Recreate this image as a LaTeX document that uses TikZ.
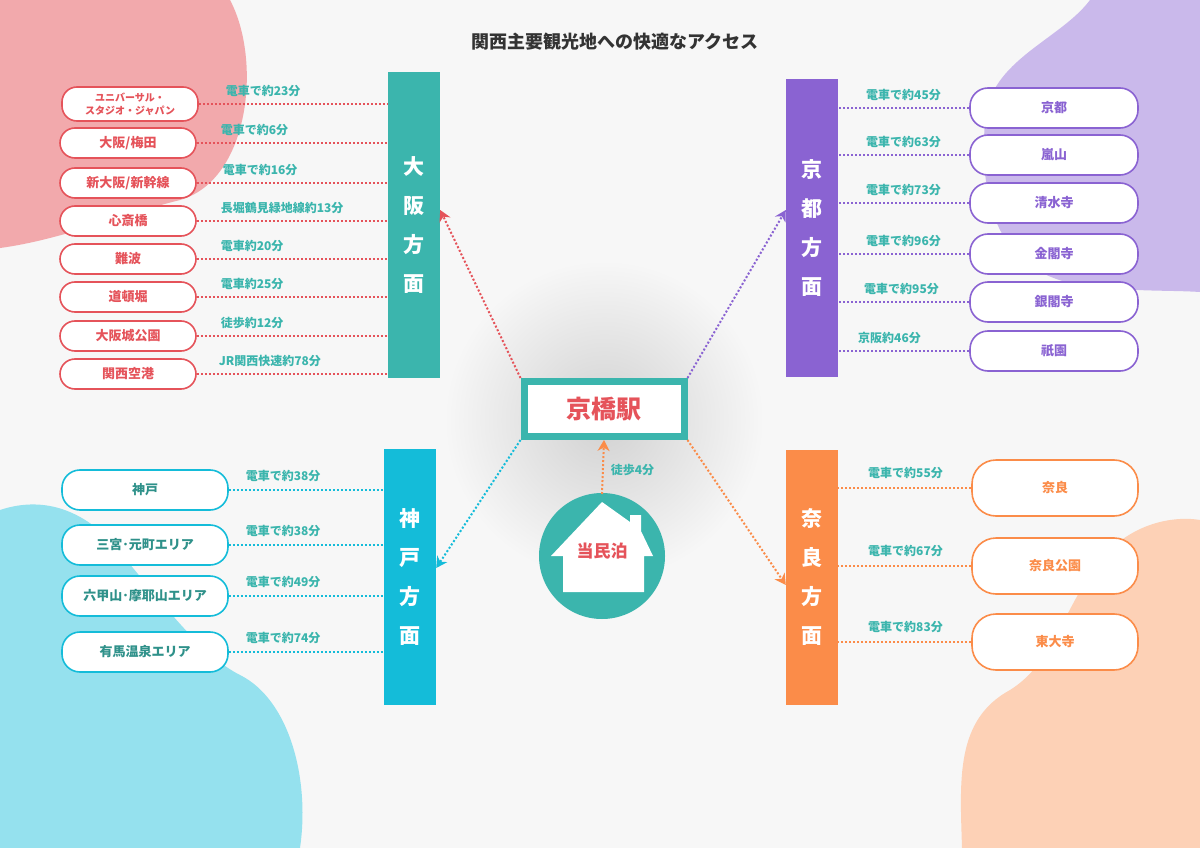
\documentclass[tikz,border=0pt]{standalone}
\usepackage{fontspec}
\setmainfont{Noto Sans CJK JP}
\usepackage{tikz}
\usetikzlibrary{arrows, arrows.meta}
\usetikzlibrary{shapes.geometric, positioning, calc}
\definecolor{bg}{HTML}{F7F7F7}
\definecolor{teal}{HTML}{3BB5AD}
\definecolor{osk}{HTML}{E5535A}
\definecolor{kbe}{HTML}{14BCD9}
\definecolor{kyo}{HTML}{8A63D2}
\definecolor{nra}{HTML}{FB8C49}
\tikzset{
  bar/.style={minimum width=52pt, inner sep=0pt, font=\bfseries\fontsize{21}{39}\selectfont, text=white, align=center},
  spot/.style={draw=#1, line width=1.6pt, rounded corners=15pt, fill=white, text=#1, font=\bfseries\fontsize{13}{15}\selectfont, inner sep=0pt, align=center},
  link/.style={#1, line width=2pt, dash pattern=on 2pt off 2pt},
  time/.style={text=teal, font=\bfseries\fontsize{12}{13}\selectfont, anchor=south west, inner sep=1pt},
  tip/.style={-{Stealth[length=11pt, width=12pt]}}
}
\begin{document}
\begin{tikzpicture}[x=1pt, y=-1pt]
        \fill[bg] (0,0) rectangle (1200,848);
        \useasboundingbox (0,0) rectangle (1200,848);

        % blobs
        \fill[osk!50] (0,0) -- (230,0) .. controls (262,60) and (250,180) .. (180,200) .. controls (120,215) and (60,240) .. (0,248) -- cycle;
        \fill[kyo!45] (1200,0) -- (1090,0) .. controls (1060,40) and (990,60) .. (985,120) .. controls (980,190) and (990,270) .. (1080,285) .. controls (1130,292) and (1170,290) .. (1200,292) -- cycle;
        \fill[kbe!45] (0,848) -- (300,848) .. controls (310,780) and (290,700) .. (240,675) .. controls (200,655) and (160,600) .. (110,540) .. controls (70,500) and (30,500) .. (0,510) -- cycle;
        \fill[nra!40] (1200,848) -- (962,848) .. controls (960,780) and (955,720) .. (1010,690) .. controls (1050,665) and (1060,620) .. (1090,575) .. controls (1120,525) and (1170,515) .. (1200,520) -- cycle;

        \node[font=\bfseries\fontsize{18}{20}\selectfont, text=black!80] (title) at (615,42) {関西主要観光地への快適なアクセス};

        % centre
        \shade[inner color=black!18, outer color=bg] (604,420) circle (160);
        \node[draw=teal, line width=7pt, fill=white, minimum width=160pt, minimum height=55pt, text=osk, font=\bfseries\fontsize{25}{27}\selectfont] (station) at (604,409) {京橋駅};
        \fill[teal] (602,556) circle (63);
        \fill[white] (602,502) -- (630,522) -- (630,515) -- (641,515) -- (641,531) -- (653,556) -- (644,556) -- (644,592) -- (563,592) -- (563,556) -- (551,556) -- cycle;
        \node[circle, minimum size=126pt, inner sep=0pt] (home) at (602,556) {};
        \node[text=osk, font=\bfseries\fontsize{17}{19}\selectfont] at (602,551) {当民泊};
        \draw[link=nra, tip] (602,494) -- (station.south) node[pos=0.45, time, anchor=west, xshift=6pt] {徒歩4分};

        % bars
        \node[bar, fill=teal, minimum height=306pt] (osaka) at (414,225) {大\\阪\\方\\面};
        \node[bar, fill=kbe, minimum height=256pt] (kobe) at (410,577) {\raisebox{12pt}{}神\\戸\\方\\面};
        \node[bar, fill=kyo, minimum height=297pt] (kyoto) at (812,228) {京\\都\\方\\面};
        \node[bar, fill=nra, minimum height=255pt] (nara) at (812,577) {奈\\良\\方\\面};

        \draw[link=osk, tip] (station.north west) -- (osaka.east |- 0,210);
        \draw[link=kyo, tip] (station.north east) -- (kyoto.west |- 0,210);
        \draw[link=kbe, tip] (station.south west) -- (kobe.east |- 0,568);
        \draw[link=nra, tip] (station.south east) -- (nara.west |- 0,585);

        % osaka
        \node[spot=osk, minimum width=136pt, minimum height=34pt, font=\bfseries\fontsize{10}{13}\selectfont] (usj) at (130,104) {ユニバーサル・\\スタジオ・ジャパン};
        \node[spot=osk, minimum width=136pt, minimum height=30pt] (umeda) at (128,143) {大阪/梅田};
        \node[spot=osk, minimum width=136pt, minimum height=30pt] (shinosaka) at (128,183) {新大阪/新幹線};
        \node[spot=osk, minimum width=136pt, minimum height=30pt] (shinsai) at (128,221) {心斎橋};
        \node[spot=osk, minimum width=136pt, minimum height=30pt] (namba) at (128,259) {難波};
        \node[spot=osk, minimum width=136pt, minimum height=30pt] (dotonbori) at (128,297) {道頓堀};
        \node[spot=osk, minimum width=136pt, minimum height=30pt] (castle) at (128,336) {大阪城公園};
        \node[spot=osk, minimum width=136pt, minimum height=30pt] (kix) at (128,374) {関西空港};
        \draw[link=osk] (usj.east) -- (usj.east -| osaka.west) node[pos=0, time, xshift=25pt, yshift=5pt] {電車で約23分};
        \draw[link=osk] (umeda.east) -- (umeda.east -| osaka.west) node[pos=0, time, xshift=22pt, yshift=5pt] {電車で約6分};
        \draw[link=osk] (shinosaka.east) -- (shinosaka.east -| osaka.west) node[pos=0, time, xshift=24pt, yshift=5pt] {電車で約16分};
        \draw[link=osk] (shinsai.east) -- (shinsai.east -| osaka.west) node[pos=0, time, xshift=22pt, yshift=5pt] {長堀鶴見緑地線約13分};
        \draw[link=osk] (namba.east) -- (namba.east -| osaka.west) node[pos=0, time, xshift=22pt, yshift=5pt] {電車約20分};
        \draw[link=osk] (dotonbori.east) -- (dotonbori.east -| osaka.west) node[pos=0, time, xshift=22pt, yshift=5pt] {電車約25分};
        \draw[link=osk] (castle.east) -- (castle.east -| osaka.west) node[pos=0, time, xshift=22pt, yshift=5pt] {徒歩約12分};
        \draw[link=osk] (kix.east) -- (kix.east -| osaka.west) node[pos=0, time, xshift=20pt, yshift=5pt] {JR関西快速約78分};

        % kobe
        \node[spot=kbe, text=teal!80!black, minimum width=166pt, minimum height=40pt, rounded corners=18pt] (kobecity) at (145,490) {神戸};
        \node[spot=kbe, text=teal!80!black, minimum width=166pt, minimum height=40pt, rounded corners=18pt] (sannomiya) at (145,545) {三宮･元町エリア};
        \node[spot=kbe, text=teal!80!black, minimum width=166pt, minimum height=40pt, rounded corners=18pt] (rokko) at (145,596) {六甲山･摩耶山エリア};
        \node[spot=kbe, text=teal!80!black, minimum width=166pt, minimum height=40pt, rounded corners=18pt] (arima) at (145,652) {有馬温泉エリア};
        \draw[link=kbe] (kobecity.east) -- (kobecity.east -| kobe.west) node[pos=0, time, xshift=15pt, yshift=6pt] {電車で約38分};
        \draw[link=kbe] (sannomiya.east) -- (sannomiya.east -| kobe.west) node[pos=0, time, xshift=15pt, yshift=6pt] {電車で約38分};
        \draw[link=kbe] (rokko.east) -- (rokko.east -| kobe.west) node[pos=0, time, xshift=15pt, yshift=6pt] {電車で約49分};
        \draw[link=kbe] (arima.east) -- (arima.east -| kobe.west) node[pos=0, time, xshift=15pt, yshift=6pt] {電車で約74分};

        % kyoto
        \node[spot=kyo, minimum width=168pt, minimum height=40pt, rounded corners=18pt] (kyotocity) at (1054,108) {京都};
        \node[spot=kyo, minimum width=168pt, minimum height=40pt, rounded corners=18pt] (arashiyama) at (1054,155) {嵐山};
        \node[spot=kyo, minimum width=168pt, minimum height=40pt, rounded corners=18pt] (kiyomizu) at (1054,203) {清水寺};
        \node[spot=kyo, minimum width=168pt, minimum height=40pt, rounded corners=18pt] (kinkaku) at (1054,254) {金閣寺};
        \node[spot=kyo, minimum width=168pt, minimum height=40pt, rounded corners=18pt] (ginkaku) at (1054,302) {銀閣寺};
        \node[spot=kyo, minimum width=168pt, minimum height=40pt, rounded corners=18pt] (gion) at (1054,351) {祇園};
        \draw[link=kyo] (kyotocity.west) -- (kyotocity.west -| kyoto.east) node[pos=1, time, xshift=26pt, yshift=5pt] {電車で約45分};
        \draw[link=kyo] (arashiyama.west) -- (arashiyama.west -| kyoto.east) node[pos=1, time, xshift=26pt, yshift=5pt] {電車で約63分};
        \draw[link=kyo] (kiyomizu.west) -- (kiyomizu.west -| kyoto.east) node[pos=1, time, xshift=26pt, yshift=5pt] {電車で約73分};
        \draw[link=kyo] (kinkaku.west) -- (kinkaku.west -| kyoto.east) node[pos=1, time, xshift=26pt, yshift=5pt] {電車で約96分};
        \draw[link=kyo] (ginkaku.west) -- (ginkaku.west -| kyoto.east) node[pos=1, time, xshift=24pt, yshift=5pt] {電車で約95分};
        \draw[link=kyo] (gion.west) -- (gion.west -| kyoto.east) node[pos=1, time, xshift=18pt, yshift=5pt] {京阪約46分};

        % nara
        \node[spot=nra, minimum width=166pt, minimum height=56pt, rounded corners=24pt] (naracity) at (1055,488) {奈良};
        \node[spot=nra, minimum width=166pt, minimum height=56pt, rounded corners=24pt] (narapark) at (1055,566) {奈良公園};
        \node[spot=nra, minimum width=166pt, minimum height=56pt, rounded corners=24pt] (todaiji) at (1055,642) {東大寺};
        \draw[link=nra] (naracity.west) -- (naracity.west -| nara.east) node[pos=1, time, xshift=28pt, yshift=7pt] {電車で約55分};
        \draw[link=nra] (narapark.west) -- (narapark.west -| nara.east) node[pos=1, time, xshift=28pt, yshift=7pt] {電車で約67分};
        \draw[link=nra] (todaiji.west) -- (todaiji.west -| nara.east) node[pos=1, time, xshift=28pt, yshift=7pt] {電車で約83分};
\end{tikzpicture}
\end{document}
